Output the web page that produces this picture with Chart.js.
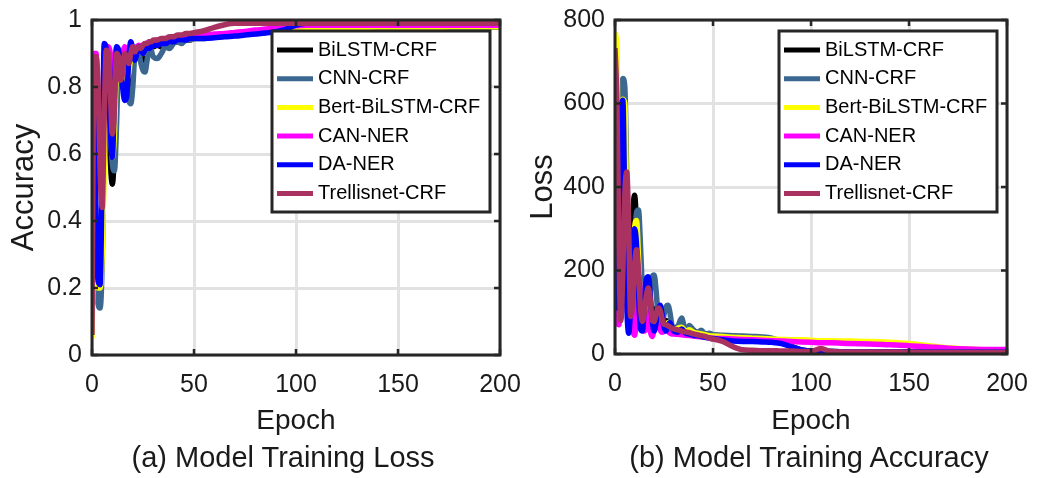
<!DOCTYPE html>
<html><head><meta charset="utf-8">
<script src="https://cdn.jsdelivr.net/npm/chart.js@4.4.1/dist/chart.umd.min.js"></script>
<style>
html,body{margin:0;padding:0;background:#fff;width:1054px;height:478px;overflow:hidden;}
.wrap{position:absolute;top:0;height:478px;width:527px;}
#w1{left:0}#w2{left:527px}
.sub{position:absolute;font-family:"Liberation Sans",Arial,sans-serif;font-size:29px;line-height:29px;color:#1a1a1a;white-space:nowrap;transform:translateX(-50%);top:443px;}
</style></head><body>
<div class="wrap" id="w1"><canvas id="c1" width="527" height="478"></canvas></div>
<div class="wrap" id="w2"><canvas id="c2" width="527" height="478"></canvas></div>
<div class="sub" style="left:283px">(a) Model Training Loss</div>
<div class="sub" style="left:809px">(b) Model Training Accuracy</div>
<script>
const epochs = [0,1,2,3,4,5,6,7,8,9,10,11,12,13,14,15,16,17,18,19,20,21,22,23,24,25,26,27,28,29,30,32,34,36,38,40,42,44,46,48,50,55,60,65,70,75,80,85,90,95,100,105,110,120,130,140,150,160,170,180,190,200];
const seriesNames = ["BiLSTM-CRF","CNN-CRF","Bert-BiLSTM-CRF","CAN-NER","DA-NER","Trellisnet-CRF"];
const xTicks = [0,50,100,150,200];
const accTicks = [0,0.2,0.4,0.6,0.8,1];
const lossTicks = [0,200,400,600,800];

// (a) accuracy curves
const accBiLSTM = [0.30,0.55,0.22,0.17,0.19,0.45,0.85,0.90,0.78,0.58,0.51,0.62,0.85,0.91,0.89,0.84,0.80,0.78,0.80,0.87,0.89,0.88,0.90,0.91,0.89,0.88,0.90,0.91,0.91,0.92,0.92,
 0.925,0.92,0.93,0.93,0.935,0.935,0.94,0.94,0.94,0.945,
 0.95,0.95,0.955,0.958,0.96,0.962,0.965,0.968,0.97,0.977,0.979,0.979,
 0.979,0.979,0.979,0.979,0.979,0.979,0.979,0.979,0.979];
const accCNN = [0.25,0.40,0.20,0.15,0.14,0.28,0.65,0.88,0.86,0.68,0.57,0.55,0.68,0.88,0.90,0.87,0.83,0.79,0.76,0.75,0.80,0.90,0.92,0.90,0.87,0.85,0.845,0.88,0.92,0.91,0.89,
 0.885,0.90,0.92,0.915,0.93,0.935,0.93,0.94,0.94,0.945,
 0.945,0.95,0.953,0.956,0.958,0.96,0.963,0.966,0.97,0.977,0.979,0.979,
 0.979,0.979,0.979,0.979,0.979,0.979,0.979,0.979,0.979];
const accBert = [0.05,0.35,0.22,0.20,0.20,0.30,0.55,0.88,0.90,0.72,0.59,0.66,0.86,0.91,0.89,0.86,0.83,0.82,0.84,0.89,0.91,0.90,0.90,0.91,0.91,0.90,0.91,0.92,0.92,0.925,0.925,
 0.93,0.93,0.935,0.935,0.94,0.94,0.94,0.945,0.945,0.945,
 0.95,0.952,0.955,0.958,0.96,0.963,0.966,0.97,0.973,0.977,0.978,0.978,
 0.978,0.978,0.979,0.979,0.979,0.979,0.98,0.98,0.98];
const accCAN = [0.60,0.90,0.90,0.72,0.50,0.55,0.78,0.90,0.92,0.90,0.82,0.84,0.90,0.91,0.89,0.90,0.92,0.91,0.90,0.915,0.92,0.915,0.92,0.925,0.92,0.925,0.93,0.93,0.935,0.935,0.935,
 0.94,0.94,0.94,0.945,0.945,0.95,0.95,0.95,0.955,0.955,
 0.955,0.958,0.96,0.963,0.966,0.97,0.973,0.976,0.98,0.983,0.984,0.984,
 0.984,0.984,0.984,0.984,0.984,0.984,0.984,0.984,0.984];
const accDA = [0.40,0.86,0.40,0.22,0.21,0.55,0.93,0.91,0.82,0.66,0.59,0.78,0.92,0.91,0.86,0.80,0.76,0.77,0.88,0.935,0.91,0.88,0.90,0.92,0.91,0.90,0.91,0.92,0.915,0.92,0.925,
 0.925,0.93,0.93,0.935,0.935,0.94,0.94,0.94,0.945,0.945,
 0.945,0.947,0.95,0.952,0.955,0.958,0.961,0.965,0.972,0.985,0.99,0.99,
 0.99,0.99,0.99,0.99,0.99,0.99,0.99,0.99,0.99];
const accTrellis = [0.06,0.89,0.89,0.80,0.55,0.44,0.72,0.91,0.90,0.78,0.66,0.74,0.90,0.89,0.82,0.84,0.90,0.89,0.87,0.90,0.92,0.905,0.915,0.92,0.915,0.925,0.93,0.93,0.935,0.935,0.94,
 0.94,0.945,0.945,0.95,0.95,0.955,0.955,0.96,0.96,0.962,
 0.968,0.978,0.986,0.99,0.99,0.99,0.99,0.99,0.99,0.99,0.99,0.99,
 0.99,0.99,0.99,0.99,0.99,0.99,0.99,0.99,0.99];

// (b) loss curves
const lossBiLSTM = [300,120,250,500,640,560,300,90,150,320,380,300,150,70,90,160,180,150,90,65,85,110,110,85,65,70,80,75,65,60,62,
 65,70,55,60,55,52,50,48,46,45,
 44,42,41,40,38,35,28,18,10,7,6,6,
 5,5,5,5,5,5,5,5,5];
const lossCNN = [250,150,350,600,660,640,420,150,55,130,260,340,345,260,150,80,62,95,150,185,189,150,90,60,70,95,113,117,100,70,56,
 65,86,55,68,58,50,57,48,50,46,
 45,44,43,42,41,38,30,18,10,7,6,6,
 5,5,5,5,5,5,5,5,5];
const lossBert = [770,730,250,420,610,600,320,100,90,200,300,320,230,110,70,100,150,165,130,80,62,85,105,100,78,62,68,75,70,62,58,
 62,64,55,58,52,50,48,46,44,43,
 42,40,39,38,37,36,35,34,34,33,32,32,
 31,30,28,25,20,15,12,10,9];
const lossCAN = [300,75,70,220,420,330,150,70,95,60,45,95,190,140,75,55,65,100,55,42,60,85,75,58,52,55,58,55,50,48,48,
 47,46,45,44,43,42,41,40,39,38,
 37,36,35,34,33,32,31,30,29,28,27,27,
 25,24,22,20,17,14,12,11,11];
const lossDA = [470,110,300,560,608,350,120,50,120,250,300,260,150,60,55,120,180,185,140,80,55,75,105,117,95,65,55,68,75,65,55,
 52,60,50,48,45,44,42,40,38,37,
 34,31,30,30,29,28,25,17,10,7,6,6,
 5,5,5,5,5,5,5,5,5];
const lossTrellis = [733,600,250,80,200,380,436,300,90,120,210,250,200,110,78,100,140,158,130,80,78,95,110,105,85,72,70,68,65,62,60,
 58,55,53,51,48,46,44,42,38,36,
 30,18,10,9,8,8,7,7,6,6,13,6,
 5,5,5,4,4,4,4,4,4];

const colors = ["#000000","#3b6790","#ffff00","#ff00ff","#0000ff","#a93261"];
const FONT = '"Liberation Sans", Arial, sans-serif';
const TXT = '#1a1a1a';
Chart.defaults.font.family = FONT;
Chart.defaults.color = TXT;

function makeSets(arrs){
  return arrs.map((a,i)=>({
    label: seriesNames[i],
    data: epochs.map((e,k)=>({x:e,y:a[k]})),
    borderColor: colors[i],
    backgroundColor: colors[i],
    borderWidth: 5.5,
    pointRadius: 0,
    cubicInterpolationMode: 'monotone',
    order: arrs.length - i,
    fill: false
  }));
}

const framePlugin = {
  id: 'frame',
  afterDatasetsDraw(chart){
    const ctx = chart.ctx, a = chart.chartArea;
    const w = 218, h = 181;
    const x0 = a.right - 10 - w, y0 = a.top + 11;
    ctx.save();
    ctx.fillStyle = '#fff'; ctx.fillRect(x0,y0,w,h);
    ctx.lineWidth = 3; ctx.strokeStyle = '#262626'; ctx.strokeRect(x0,y0,w,h);
    ctx.font = '20px ' + FONT;
    ctx.textBaseline = 'middle';
    chart.data.datasets.forEach((ds,i)=>{
      const y = y0 + 19 + i*28.7;
      ctx.strokeStyle = ds.borderColor; ctx.lineWidth = 5;
      ctx.beginPath(); ctx.moveTo(x0+5,y); ctx.lineTo(x0+41,y); ctx.stroke();
      ctx.fillStyle = '#000';
      ctx.fillText(ds.label, x0+46, y);
    });
    ctx.restore();
  },
  afterDraw(chart){
    const ctx = chart.ctx, a = chart.chartArea;
    const xs = chart.scales.x, ys = chart.scales.y;
    ctx.save();
    ctx.strokeStyle = '#262626'; ctx.lineWidth = 2.5;
    ctx.beginPath();
    xs.ticks.forEach(t=>{
      const p = xs.getPixelForValue(t.value);
      ctx.moveTo(p,a.bottom); ctx.lineTo(p,a.bottom-6);
      ctx.moveTo(p,a.top); ctx.lineTo(p,a.top+6);
    });
    ys.ticks.forEach(t=>{
      const p = ys.getPixelForValue(t.value);
      ctx.moveTo(a.left,p); ctx.lineTo(a.left+6,p);
      ctx.moveTo(a.right,p); ctx.lineTo(a.right-6,p);
    });
    ctx.stroke();
    ctx.lineWidth = 3;
    ctx.strokeRect(a.left, a.top, a.right-a.left, a.bottom-a.top);
    ctx.restore();
  }
};

function makeChart(id, arrs, yMax, yTicks, yTitle, yWidth, xHeight, padRight, yTitlePad){
  return new Chart(document.getElementById(id), {
    type: 'line',
    data: { datasets: makeSets(arrs) },
    options: {
      responsive: false,
      animation: false,
      devicePixelRatio: 1,
      layout: { padding: { top: 20, right: padRight, left: 0, bottom: 0 } },
      plugins: { legend: { display: false }, tooltip: { enabled: false } },
      scales: {
        x: {
          type: 'linear', min: 0, max: 200,
          afterBuildTicks(s){ s.ticks = xTicks.map(v=>({value:v})); },
          afterFit(s){ s.height = xHeight; s.paddingLeft = 0; s.paddingRight = 0; },
          grid: { color: '#e2e2e2', lineWidth: 3, drawTicks: false },
          border: { display: false },
          ticks: { font: { size: 25 }, padding: 15, color: TXT, maxRotation: 0, callback: v => String(v) },
          title: { display: true, text: 'Epoch', font: { size: 28 }, color: TXT, padding: { top: 0, bottom: 40 } }
        },
        y: {
          type: 'linear', min: 0, max: yMax,
          afterBuildTicks(s){ s.ticks = yTicks.map(v=>({value:v})); },
          afterFit(s){ s.width = yWidth; s.paddingTop = 0; s.paddingBottom = 0; },
          grid: { color: '#e2e2e2', lineWidth: 3, drawTicks: false },
          border: { display: false },
          ticks: { font: { size: 25 }, padding: 10, color: TXT, callback: v => String(v) },
          title: { display: true, text: yTitle, font: { size: 31, lineHeight: 1 }, color: TXT, padding: { top: yTitlePad, bottom: 0 } }
        }
      }
    },
    plugins: [framePlugin]
  });
}

makeChart('c1', [accBiLSTM,accCNN,accBert,accCAN,accDA,accTrellis], 1, accTicks, 'Accuracy', 92, 123, 27, 9);
makeChart('c2', [lossBiLSTM,lossCNN,lossBert,lossCAN,lossDA,lossTrellis], 800, lossTicks, 'Loss', 88, 124, 47, 1);
</script>
</body></html>
